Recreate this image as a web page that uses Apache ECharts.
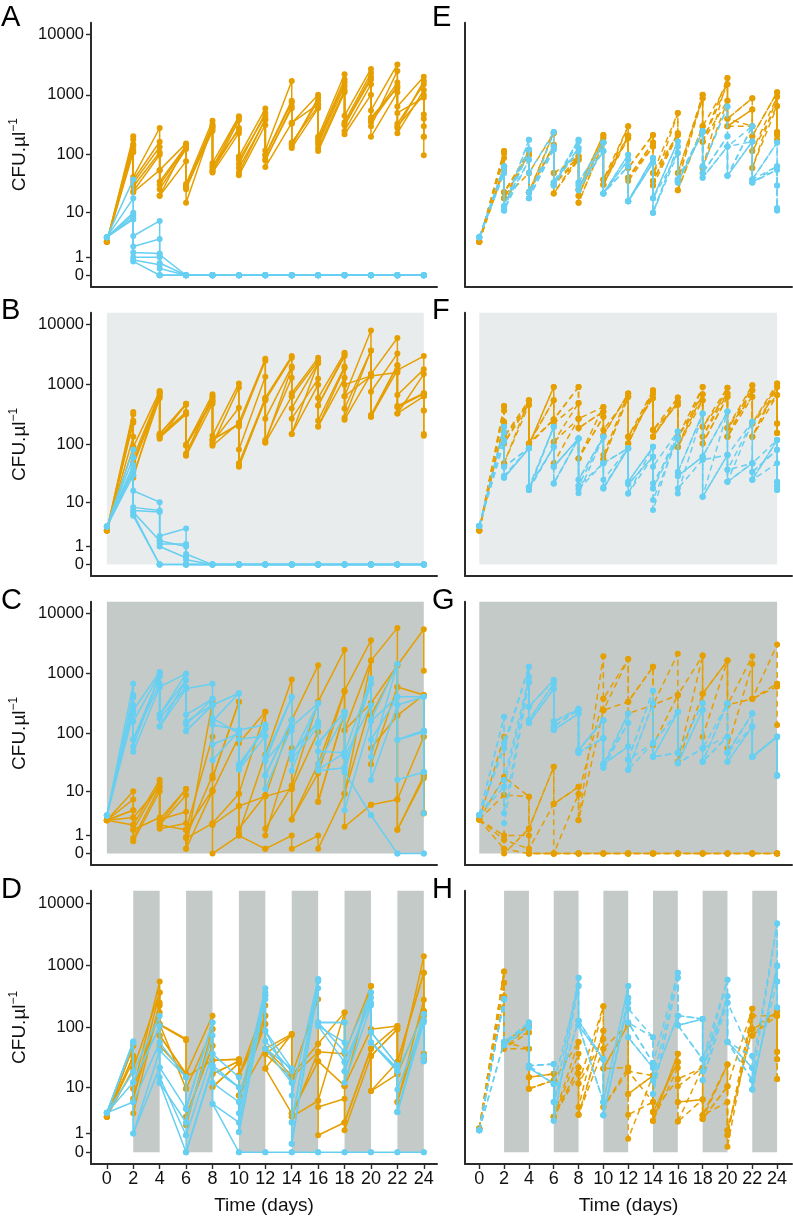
<!DOCTYPE html>
<html><head><meta charset="utf-8">
<script src="https://cdn.jsdelivr.net/npm/echarts@6/dist/echarts.min.js"></script>
<style>html,body{margin:0;padding:0;background:#fff}#c{width:793px;height:1216px}</style>
</head><body><div id="c"></div>
<script>
// sampling days: day 0, then at each transfer day a value before (high) and after (low) dilution
const sampleDays = [0, 2,2, 4,4, 6,6, 8,8, 10,10, 12,12, 14,14, 16,16, 18,18, 20,20, 22,22, 24,24];
const xTickValues = [0,2,4,6,8,10,12,14,16,18,20,22,24];
const yTickValues = [0,1,10,100,1000,10000];
const stripeStarts = [2,6,10,14,18,22];

// CFU per µl, one row per replicate
const A_orange = [
[2.6, 205,42, 280,55, 155,32, 370,72, 440,93, 590,118, 1700,340, 1000,200, 2200,450, 2700,550, 3200,640, 2000,470],
[2.6, 180,37, 165,35, 140,29, 320,60, 420,82, 450,96, 750,150, 800,165, 1600,320, 2000,380, 1600,330, 1500,400],
[2.6, 150,33, 135,31, 135,26, 290,55, 280,60, 380,83, 600,130, 600,150, 1400,310, 1800,350, 1400,300, 1000,300],
[2.6, 140,29, 110,26, 125,28, 250,50, 230,45, 315,62, 340,330, 700,115, 1100,220, 1000,200, 1100,230, 1200,200],
[2.6, 120,24, 100,20, 78,15, 300,65, 260,50, 400,80, 650,140, 900,180, 1800,350, 2300,420, 1300,280, 1700,98],
[2.6, 110,23, 55,20, 150,30, 270,52, 380,70, 500,100, 800,160, 650,130, 1200,250, 1500,300, 2500,500, 900,200]];
const A_blue = [
[3.3, 38,3.5, 7,1.2, 0,0, 0,0, 0,0, 0,0, 0,0, 0,0, 0,0, 0,0, 0,0, 0,0],
[3.3, 18,2, 3,0.6, 0,0, 0,0, 0,0, 0,0, 0,0, 0,0, 0,0, 0,0, 0,0, 0,0],
[3.3, 10,1.4, 1.3,0.3, 0,0, 0,0, 0,0, 0,0, 0,0, 0,0, 0,0, 0,0, 0,0, 0,0],
[3.3, 9,1, 1,0, 0,0, 0,0, 0,0, 0,0, 0,0, 0,0, 0,0, 0,0, 0,0, 0,0],
[3.3, 8,0.8, 0.5,0, 0,0, 0,0, 0,0, 0,0, 0,0, 0,0, 0,0, 0,0, 0,0, 0,0],
[3.3, 7.5,0.7, 0,0, 0,0, 0,0, 0,0, 0,0, 0,0, 0,0, 0,0, 0,0, 0,0, 0,0]];
const B_orange = [
[2.7, 350,90, 780,150, 480,97, 690,140, 1050,230, 2700,600, 3000,720, 2800,600, 3400,640, 8000,1500, 6000,1750, 3000,720],
[2.7, 320,60, 720,140, 350,70, 600,110, 410,82, 1350,270, 2000,400, 2300,450, 3000,400, 3700,760, 3300,670, 1800,640],
[2.7, 250,50, 700,130, 320,64, 480,95, 230,48, 600,118, 1300,270, 1250,250, 2000,260, 1500,310, 2100,440, 720,370],
[2.7, 230,45, 640,125, 480,100, 550,120, 215,42, 560,107, 640,150, 1000,200, 1300,640, 1400,290, 1750,330, 640,150],
[2.7, 135,30, 600,140, 330,95, 520,100, 900,200, 2500,550, 2800,640, 2500,450, 3200,1000, 1400,290, 2100,420, 700,140],
[2.7, 90,27, 760,150, 460,66, 640,120, 220,44, 580,110, 1900,150, 2300,200, 1900,280, 3700,1400, 1600,330, 1500,370]];
const B_blue = [
[3.3, 82,16, 10,2, 3,0.5, 0,0, 0,0, 0,0, 0,0, 0,0, 0,0, 0,0, 0,0, 0,0],
[3.3, 60,8, 7,1.5, 1,0.2, 0,0, 0,0, 0,0, 0,0, 0,0, 0,0, 0,0, 0,0, 0,0],
[3.3, 45,7, 6.5,1.2, 1.2,0, 0,0, 0,0, 0,0, 0,0, 0,0, 0,0, 0,0, 0,0, 0,0],
[3.3, 38,6, 0,0, 0,0, 0,0, 0,0, 0,0, 0,0, 0,0, 0,0, 0,0, 0,0, 0,0],
[3.3, 35,6.5, 1.5,1.0, 0.3,0, 0,0, 0,0, 0,0, 0,0, 0,0, 0,0, 0,0, 0,0, 0,0],
[3.3, 30,5.5, 0,0, 0,0, 0,0, 0,0, 0,0, 0,0, 0,0, 0,0, 0,0, 0,0, 0,0]];
const C_orange = [
[2.6, 10,2, 16,2.7, 11,0.2, 340,17, 340,68, 230,43, 800,167, 1380,340, 2500,520, 3600,1650, 5800,1380, 5500,1120],
[2.6, 7,1.5, 14,2, 8.5,1.5, 10.5,2.2, 9,1.6, 8.5,1.6, 12.5,2.7, 30,6.3, 230,113, 320,30, 600,200, 440,88],
[2.6, 4.3,0.8, 12,2.7, 4,0.9, 19,10, 88,5.2, 8,1.0, 56,11, 107,21, 500,9, 1650,320, 1380,600, 440,19],
[2.6, 3,0.6, 10,1.6, 2.2,0.8, 2.2,0, 1.0,1.0, 0.2,0.2, 1.0,0.2, 1.0,0.2, 9,1.8, 5.5,5.5, 7,1.5, 19,3.7],
[2.6, 2,1.5, 3,2, 1.5,0.2, 10,2, 5.2,1.2, 43,8, 11,2.7, 21,6.3, 230,9, 320,56, 200,7, 88,3.7],
[2.6, 4.3,3, 12,2.2, 11,1.5, 88,17, 340,9, 230,8, 167,12.5, 340,30, 520,113, 1650,200, 1380,1.5, 17,3.7]];
const C_blue = [
[3.3, 680,245, 1070,600, 1000,560, 680,300, 470,114, 140,40, 410,130, 320,68, 230,47, 820,167, 1450,300, 410,112],
[3.3, 440,158, 1000,205, 780,205, 380,140, 114,30, 118,19, 167,47, 158,24, 47,26, 680,78, 410,78, 112,22],
[3.3, 245,78, 680,130, 560,158, 300,180, 100,24, 90,11, 130,36, 130,23, 26,4.3, 167,15.8, 300,16, 22,3.7],
[3.3, 215,49, 600,205, 1000,110, 300,65, 100,25, 140,34, 112,23, 320,68, 230,22, 3.4,3.4, 0,0, 0,0],
[3.3, 400,80, 900,130, 780,140, 380,35, 110,28, 120,34, 400,47, 150,30, 200,40, 300,40, 1450,410, 410,105],
[3.3, 300,60, 1000,180, 600,110, 300,160, 470,80, 90,19, 170,40, 320,50, 47,22, 820,160, 410,78, 105,22]];
const D_orange = [
[2.7, 50,9.4, 550,113, 65,17, 155,29, 30,16, 225,45, 78,16, 285,54, 175,37, 465,93, 105,17, 1400,185],
[2.7, 34,6.2, 365,74, 17,9.4, 94,17, 28,7.1, 155,37, 75,14.8, 40,28, 10.6,2, 45,34, 93,27, 760,155],
[2.7, 29,3.2, 250,50, 17,2.7, 50,10.1, 26,16, 113,21, 3.2,2.7, 5.7,4.3, 6.2,1.25, 34,8.6, 27,5.4, 280,37],
[2.7, 21,6.2, 225,110, 62,15, 29,17, 28,7.1, 45,21, 78,16, 54,40, 37,10.6, 93,45, 105,17, 185,31],
[2.7, 34,9.4, 175,74, 17,1.7, 94,29, 30,16, 155,45, 16,3.2, 28,0.87, 2,2, 45,8.6, 17,5.4, 155,37],
[2.7, 50,21, 365,113, 9.4,2.7, 50,10.1, 26,7.1, 113,37, 14.8,2.7, 40,5.7, 175,10.6, 465,34, 93,27, 760,31]];
const D_blue = [
[3.3, 59,18.5, 155,42, 15,4, 120,37, 15,5.4, 430,88, 21,7.1, 600,120, 120,40, 365,84, 24,19, 165,34],
[3.3, 55,12.3, 105,22, 4,2, 74,24, 10,3.2, 365,60, 19,2, 560,105, 57,19, 300,57, 21,3.4, 120,28],
[3.3, 18.5,5.4, 57,15, 0.87,0, 21,4.96, 2,1.1, 330,45, 12,0.37, 430,105, 27,12, 225,57, 19,3.4, 130,28],
[3.3, 12.3,1.0, 42,12, 0,0, 24,5, 0,0, 0,0, 0,0, 0,0, 0,0, 0,0, 0,0, 0,0],
[3.3, 5.4,1.0, 22,12, 2,0.87, 37,12, 5.4,1.1, 285,88, 12,2, 600,120, 40,19, 365,84, 24,3.4, 165,34],
[3.3, 59,12.3, 105,57, 15,4, 120,21, 10,2, 330,45, 21,0.37, 560,120, 120,27, 250,57, 21,9.2, 130,28]];
const E_orange = [
[2.6, 115,23, 115,23, 235,49, 94,26, 215,38, 300,60, 215,49, 500,49, 1000,165, 1900,400, 880,205, 1100,240],
[2.6, 105,18, 100,49, 230,31, 82,20, 190,31, 210,41, 160,36, 230,36, 880,300, 1500,300, 570,115, 930,215],
[2.6, 88,18, 115,23, 147,22, 94,15, 160,38, 190,36, 137,30, 215,25, 300,60, 800,300, 300,60, 650,178],
[2.6, 64,23, 100,23, 137,22, 82,26, 215,31, 300,41, 160,30, 500,36, 1000,165, 1500,400, 880,205, 1100,215],
[2.6, 56,18, 49,23, 147,31, 94,20, 190,38, 210,60, 215,36, 230,49, 880,165, 800,300, 570,115, 650,178],
[2.6, 115,23, 100,23, 230,49, 82,15, 160,31, 190,41, 137,49, 215,25, 300,60, 1900,400, 300,60, 930,240]];
const E_blue = [
[3.3, 64,13, 178,49, 240,34, 178,34, 160,22, 100,16, 88,18, 167,38, 250,64, 640,137, 300,38, 160,30],
[3.3, 60,11, 122,18, 137,30, 167,30, 115,22, 82,16, 74,10, 137,34, 240,49, 205,44, 167,34, 64,12],
[3.3, 49,13, 82,23, 122,30, 130,25, 160,22, 64,16, 88,10, 107,38, 250,41, 137,44, 300,34, 56,11],
[3.3, 64,11, 178,18, 240,34, 115,25, 115,22, 100,16, 74,18, 167,34, 240,64, 640,137, 167,38, 160,12],
[3.3, 60,13, 122,23, 137,30, 178,34, 160,22, 82,16, 88,10, 137,38, 250,49, 205,44, 300,38, 64,30],
[3.3, 49,11, 82,18, 122,34, 130,30, 115,22, 64,16, 74,18, 107,34, 240,41, 137,44, 167,34, 56,11]];
const F_orange = [
[2.7, 440,104, 550,98, 915,262, 915,270, 425,143, 710,134, 805,175, 610,134, 915,198, 890,188, 980,225, 1050,225],
[2.7, 370,134, 460,104, 550,225, 495,188, 355,175, 625,104, 710,134, 520,90, 690,134, 710,134, 805,134, 915,155],
[2.7, 240,48, 550,104, 262,48, 270,58, 290,66, 710,134, 600,175, 460,134, 550,104, 625,188, 625,225, 670,155],
[2.7, 225,48, 460,98, 915,110, 495,58, 425,56, 625,104, 805,134, 610,90, 915,134, 890,134, 980,134, 1050,225],
[2.7, 440,134, 550,104, 550,262, 915,188, 355,143, 710,134, 600,134, 520,134, 690,198, 710,188, 805,225, 915,155],
[2.7, 370,104, 460,98, 262,110, 270,58, 290,56, 625,104, 710,175, 460,90, 550,104, 625,134, 625,134, 670,225]];
const F_blue = [
[3.4, 198,42, 86,18.5, 198,42, 126,25, 134,48, 86,23, 91,42, 165,34, 330,62, 355,66, 240,48, 118,23],
[3.4, 160,29, 86,16.6, 91,21.6, 126,19.6, 134,25, 86,21, 62,21.6, 126,29, 62,12.5, 66,37, 48,34, 81,19.6],
[3.4, 118,27, 86,18.5, 91,42, 126,17, 48,18.5, 86,14.3, 62,17.5, 165,17.5, 55,12.5, 355,23, 240,25, 48,16.6],
[3.4, 110,42, 86,16.6, 198,21.6, 126,14.5, 134,17.5, 86,23, 91,11, 126,14.3, 330,55, 66,23, 48,25, 118,19.6],
[3.4, 198,29, 86,18.5, 91,42, 126,25, 134,48, 86,21, 62,7.1, 165,34, 330,62, 355,37, 240,34, 81,23],
[3.4, 160,27, 86,16.6, 198,21.6, 126,19.6, 48,17.5, 86,14.3, 91,17.5, 126,29, 62,12.5, 66,23, 48,25, 118,16.6]];
const G_orange = [
[2.7, 88,17.9, 7.9,1.6, 27,5.7, 12,2.6, 1950,380, 1750,340, 1300,300, 2150,440, 2000,460, 1650,300, 1950,380, 3050,680],
[2.7, 17.9,8.5, 7.9,1.6, 27,5.7, 12,8.9, 380,245, 1750,340, 1300,300, 440,33, 2000,460, 1650,56, 1450,380, 610,138],
[2.7, 8.5,1.0, 1.0,0.2, 5.7,0, 8.9,2.6, 245,245, 340,215, 300,63, 440,33, 460,88, 1650,300, 380,380, 680,610],
[2.7, 1.0,0.7, 0.2,0, 0,0, 0,0, 0,0, 0,0, 0,0, 0,0, 0,0, 0,0, 0,0, 0,0],
[2.7, 0.7,0.2, 0,0, 0,0, 0,0, 0,0, 0,0, 0,0, 0,0, 0,0, 0,0, 0,0, 0,0],
[2.7, 0.2,0, 1.6,0, 0,0, 0,0, 0,0, 0,0, 0,0, 0,0, 0,0, 0,0, 0,0, 0,0]];
const G_blue = [
[3.4, 190,68, 1300,280, 780,158, 260,52, 167,30, 215,36, 520,68, 230,47, 320,56, 320,47, 215,40, 88,19],
[3.4, 68,15.8, 880,167, 680,130, 250,47, 83,26, 150,24, 320,40, 230,31, 250,33, 88,33, 130,40, 88,19],
[3.4, 56,12, 720,150, 560,114, 215,52, 167,30, 60,36, 68,40, 47,31, 56,33, 320,47, 215,40, 88,19],
[3.4, 15.8,3.7, 880,280, 780,130, 260,47, 83,26, 215,24, 320,68, 230,47, 320,56, 88,33, 130,40, 88,19],
[3.4, 12,2.2, 720,167, 680,114, 215,52, 167,30, 150,36, 520,40, 230,31, 250,33, 320,47, 215,40, 88,19],
[3.4, 190,56, 1300,150, 560,158, 250,47, 83,30, 60,24, 68,40, 47,31, 56,33, 88,47, 130,40, 88,19]];
const H_orange = [
[1.4, 800,58, 108,15, 17.1,2.7, 58,4.3, 220,21, 113,7.6, 16,2.2, 37,10.4, 21.7,2.9, 24.5,0.87, 200,74, 185,30],
[1.4, 525,45, 83,9.4, 13.3,2.7, 37,3.0, 88,21, 22,3.0, 5.4,3.4, 27,5.4, 6,2.4, 10.4,0.22, 155,93, 155,40],
[1.4, 320,58, 45,15, 17.1,2.7, 22,11.7, 65,4.3, 19,0.65, 16,2.2, 21.7,2.1, 21.7,2.9, 5.4,1.25, 93,74, 185,14],
[1.4, 300,45, 108,9.4, 13.3,2.7, 17.1,3.0, 45,21, 113,19, 5.4,3.4, 14,5.4, 6,2.4, 24.5,10.4, 200,155, 155,30],
[1.4, 800,58, 83,15, 17.1,13.3, 58,11.7, 220,4.3, 22,7.6, 16,2.2, 37,14, 21.7,2.4, 10.4,0.87, 155,93, 185,40],
[1.4, 525,45, 45,9.4, 13.3,2.7, 22,3.0, 88,45, 113,19, 16,3.4, 27,2.1, 6,2.9, 24.5,1.25, 93,74, 155,14]];
const H_blue = [
[1.25, 285,58, 120,23.5, 25,5.4, 630,128, 30,5.4, 465,120, 69,13.3, 760,155, 137,30, 590,58, 34,13.3, 4700,550],
[1.25, 285,51, 100,21.7, 11.5,2.2, 465,108, 30,2.9, 300,120, 26,7.6, 630,108, 137,19, 320,58, 21.7,9.2, 1000,210],
[1.25, 58,51, 120,23.5, 25,5.4, 128,108, 5.4,2.9, 250,69, 21.7,13.3, 155,108, 30,13.3, 250,58, 13.3,9.2, 970,210],
[1.25, 285,58, 100,21.7, 11.5,2.2, 630,128, 30,5.4, 465,200, 69,26, 760,155, 137,19, 590,250, 34,21.7, 4700,1000],
[1.25, 58,51, 120,23.5, 25,11.5, 465,108, 5.4,2.9, 300,120, 26,7.6, 630,108, 30,13.3, 320,58, 21.7,13.3, 550,210],
[1.25, 285,51, 100,23.5, 11.5,5.4, 128,108, 30,2.9, 250,69, 21.7,13.3, 155,108, 137,30, 250,58, 13.3,9.2, 970,550]];

const panels = [
  {letter:'A', row:0, col:0, orange:A_orange, blue:A_blue, shade:'none'},
  {letter:'B', row:1, col:0, orange:B_orange, blue:B_blue, shade:'light'},
  {letter:'C', row:2, col:0, orange:C_orange, blue:C_blue, shade:'dark'},
  {letter:'D', row:3, col:0, orange:D_orange, blue:D_blue, shade:'stripes'},
  {letter:'E', row:0, col:1, orange:E_orange, blue:E_blue, shade:'none'},
  {letter:'F', row:1, col:1, orange:F_orange, blue:F_blue, shade:'light'},
  {letter:'G', row:2, col:1, orange:G_orange, blue:G_blue, shade:'dark'},
  {letter:'H', row:3, col:1, orange:H_orange, blue:H_blue, shade:'stripes'}
];

const ORANGE = '#E69F00', BLUE = '#67CFF1', LIGHT = '#E9ECEC', DARK = '#C3CAC8', AXIS = '#2b2b2b';
const FONT = '"Liberation Sans", Arial, Helvetica, sans-serif';
const rowTop = [22.7, 312.7, 601.7, 890.7];
const rowH = [264, 263.3, 263.3, 275];
const colLeft = [91, 465], colW = [346, 327];
const colXMin = [-1.2, -1.15], colXMax = [25, 25.2];
const Y_MIN = -0.19, Y_MAX = 4.2;
const tr = v => Math.log10(v + 1);

const grid = [], xAxis = [], yAxis = [], series = [], graphic = [];
panels.forEach((p, g) => {
  grid.push({left: colLeft[p.col], top: rowTop[p.row], width: colW[p.col], height: rowH[p.row], containLabel: false});
  const bottom = p.row === 3;
  xAxis.push({
    type:'value', gridIndex:g, min: colXMin[p.col], max: colXMax[p.col],
    axisLine:{show:true, onZero:false, lineStyle:{color:AXIS, width:2}},
    axisTick:{show:bottom, customValues: xTickValues, length:5, lineStyle:{color:AXIS, width:1.4}},
    axisLabel:{show:bottom, customValues: xTickValues, margin:6, color:'#111', fontSize:18, fontFamily:FONT},
    splitLine:{show:false},
    name: bottom ? 'Time (days)' : '', nameLocation:'middle', nameGap: 32,
    nameTextStyle:{color:'#111', fontSize:19, fontFamily:FONT}
  });
  const left = p.col === 0;
  yAxis.push({
    type:'value', gridIndex:g, min: Y_MIN, max: Y_MAX,
    axisLine:{show:true, onZero:false, lineStyle:{color:AXIS, width:2}},
    axisTick:{show:left, customValues: yTickValues.map(tr), length:5, lineStyle:{color:AXIS, width:1.4}},
    axisLabel:{show:left, customValues: yTickValues.map(tr), margin:7, color:'#111', fontSize:16.5, fontFamily:FONT,
      formatter: v => { let best = 0; yTickValues.forEach((t,i)=>{ if (Math.abs(tr(t)-v) < Math.abs(tr(yTickValues[best])-v)) best = i; }); return String(yTickValues[best]); }},
    splitLine:{show:false},
    name: left ? '{a|CFU.µl}{s|−1}' : '', nameLocation:'middle', nameGap: 59, nameRotate: 90,
    nameTextStyle:{color:'#111', fontFamily:FONT, rich:{a:{fontSize:19, fontFamily:FONT, color:'#111', lineHeight:24}, s:{fontSize:12, fontFamily:FONT, color:'#111', verticalAlign:'top', lineHeight:24, padding:[0,0,7,0]}}}
  });
  // background shading
  let areas = [];
  if (p.shade === 'light' || p.shade === 'dark') {
    areas = [[{xAxis:0, yAxis:0, itemStyle:{color: p.shade==='light'?LIGHT:DARK}}, {xAxis:24, yAxis:Y_MAX}]];
  } else if (p.shade === 'stripes') {
    areas = stripeStarts.map(s => [{xAxis:s, yAxis:0, itemStyle:{color:DARK}}, {xAxis:s+2, yAxis:Y_MAX}]);
  }
  if (areas.length) {
    series.push({type:'line', xAxisIndex:g, yAxisIndex:g, data:[], z:1, silent:true,
      markArea:{silent:true, itemStyle:{opacity:1}, label:{show:false}, data: areas}});
  }
  const dashed = p.col === 1;
  [[p.orange, ORANGE, 3], [p.blue, BLUE, 4]].forEach(([reps, color, z]) => {
    reps.forEach(row => {
      series.push({
        type:'line', xAxisIndex:g, yAxisIndex:g, z, silent:true,
        data: sampleDays.map((d,k) => [d, tr(row[k])]),
        symbol:'circle', symbolSize:6, showSymbol:true,
        itemStyle:{color}, lineStyle:{color, width:1.5, type: dashed ? [6,4] : 'solid'}
      });
    });
  });
  graphic.push({type:'text', left: p.col===0 ? 1 : 432, top: [3, 296, 586, 875][p.row],
    style:{text:p.letter, fontSize:29, fontFamily:FONT, fill:'#000'}});
});

const chart = echarts.init(document.getElementById('c'), null, {renderer:'canvas'});
chart.setOption({animation:false, backgroundColor:'#fff', grid, xAxis, yAxis, series, graphic});
</script></body></html>
